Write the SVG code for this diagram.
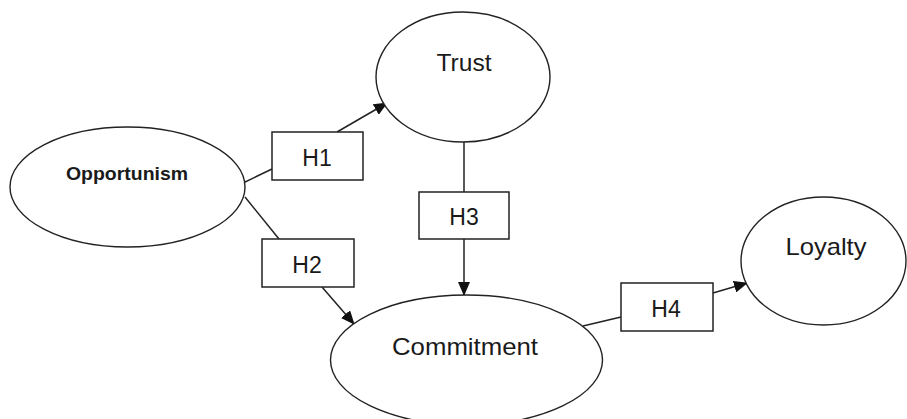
<svg xmlns="http://www.w3.org/2000/svg" width="907" height="419" viewBox="0 0 907 419">
<defs>
<marker id="arr" markerUnits="userSpaceOnUse" markerWidth="14" markerHeight="12" viewBox="0 0 14 12" refX="13" refY="6" orient="auto">
<path d="M0,0 L14,6 L0,12 Z" fill="#111"/>
</marker>
<style>
.node{fill:#fff;stroke:#222;stroke-width:1.4}
.box{fill:#fff;stroke:#222;stroke-width:1.5}
.edge{fill:none;stroke:#222;stroke-width:1.5}
.lbl{font-family:"Liberation Sans",Arial,sans-serif;font-size:24px;fill:#1a1a1a;text-anchor:middle}
.hl{font-family:"Liberation Sans",Arial,sans-serif;font-size:23px;fill:#1a1a1a;text-anchor:middle}
</style>
</defs>
<rect width="907" height="419" fill="#fff"/>
<g id="connectors">
<line class="edge" x1="243" y1="183" x2="272" y2="169"/>
<line class="edge" x1="337" y1="132" x2="387" y2="103" marker-end="url(#arr)"/>
<line class="edge" x1="245" y1="197" x2="279" y2="239"/>
<line class="edge" x1="322" y1="287" x2="354" y2="324" marker-end="url(#arr)"/>
<line class="edge" x1="464" y1="142" x2="464" y2="192"/>
<line class="edge" x1="464" y1="239" x2="464" y2="295" marker-end="url(#arr)"/>
<line class="edge" x1="583" y1="326" x2="621" y2="317"/>
<line class="edge" x1="713" y1="293" x2="747" y2="283" marker-end="url(#arr)"/>
</g>
<g id="opportunism">
<ellipse class="node" cx="127.5" cy="187" rx="117.5" ry="60"/>
<text x="127" y="180" font-family="Liberation Sans, Arial, sans-serif" font-size="18" font-weight="bold" fill="#1a1a1a" text-anchor="middle" textLength="122" lengthAdjust="spacingAndGlyphs">Opportunism</text>
</g>
<g id="trust">
<ellipse class="node" cx="463" cy="77" rx="87" ry="65"/>
<text class="lbl" x="464" y="71" textLength="55" lengthAdjust="spacingAndGlyphs">Trust</text>
</g>
<g id="commitment">
<ellipse class="node" cx="466.5" cy="360" rx="136" ry="65"/>
<text class="lbl" x="465" y="355" textLength="146" lengthAdjust="spacingAndGlyphs">Commitment</text>
</g>
<g id="loyalty">
<ellipse class="node" cx="823.5" cy="261" rx="82.5" ry="64"/>
<text class="lbl" x="826" y="255" textLength="81" lengthAdjust="spacingAndGlyphs">Loyalty</text>
</g>
<g id="h1">
<rect class="box" x="272" y="132" width="91" height="48"/>
<text class="hl" x="317" y="166">H1</text>
</g>
<g id="h2">
<rect class="box" x="262" y="239" width="92" height="48"/>
<text class="hl" x="307" y="273">H2</text>
</g>
<g id="h3">
<rect class="box" x="419" y="192" width="90" height="47"/>
<text class="hl" x="464" y="225">H3</text>
</g>
<g id="h4">
<rect class="box" x="621" y="283" width="92" height="48"/>
<text class="hl" x="666" y="317">H4</text>
</g>
</svg>
